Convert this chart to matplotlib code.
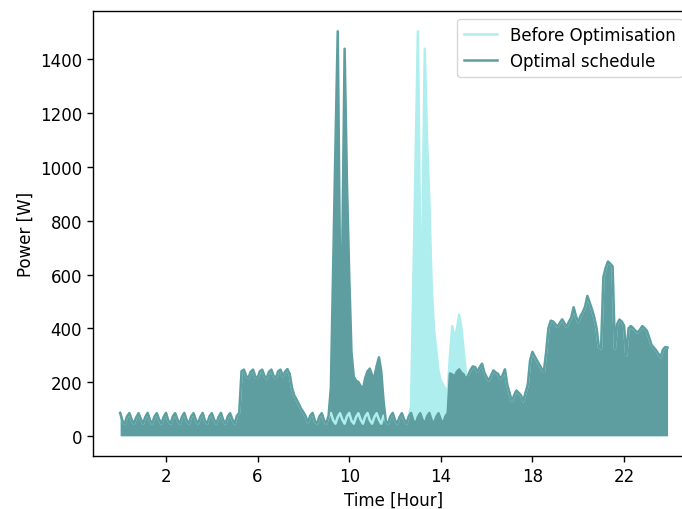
import numpy as np
import matplotlib
matplotlib.use("Agg")
import matplotlib.pyplot as plt

# power readings every 0.1 hour, 0.0 .. 23.9
hours = np.round(np.arange(0, 24, 0.1), 1)

before = [
    85, 55, 45, 72, 84, 60, 45, 68, 84, 62,
    45, 70, 85, 58, 45, 72, 84, 60, 45, 70,
    85, 56, 45, 72, 84, 60, 45, 70, 85, 58,
    45, 72, 84, 60, 45, 70, 85, 56, 45, 72,
    84, 60, 45, 70, 85, 58, 45, 72, 84, 60,
    45, 75, 85, 240, 246, 222, 215, 238, 246, 220,
    215, 240, 246, 222, 214, 238, 246, 222, 215, 240,
    246, 222, 238, 248, 230, 178, 150, 135, 118, 100,
    88, 72, 48, 75, 85, 55, 45, 72, 84, 58,
    45, 72, 85, 58, 45, 70, 84, 60, 45, 72,
    85, 56, 45, 70, 84, 60, 45, 72, 85, 58,
    45, 70, 84, 60, 45, 75, 55, 45, 72, 85,
    58, 45, 70, 84, 60, 45, 72, 110, 560, 1030,
    1505, 690, 760, 1440, 1100, 870, 560, 400, 320, 240,
    205, 190, 175, 165, 300, 408, 365, 395, 450, 400,
    315, 230, 225, 245, 258, 255, 238, 255, 268, 235,
    218, 205, 225, 243, 235, 230, 212, 225, 247, 190,
    160, 128, 150, 168, 160, 150, 128, 160, 190, 280,
    312, 295, 280, 265, 250, 238, 310, 400, 428, 425,
    415, 405, 420, 433, 418, 405, 425, 440, 478, 445,
    423, 445, 460, 480, 520, 495, 470, 440, 400, 330,
    325, 590, 625, 648, 640, 630, 325, 415, 432, 425,
    410, 300, 400, 408, 400, 390, 385, 395, 408, 400,
    390, 365, 338, 328, 318, 305, 292, 320, 330, 328,
]

optimal = [
    85, 55, 45, 72, 84, 60, 45, 68, 84, 62,
    45, 70, 85, 58, 45, 72, 84, 60, 45, 70,
    85, 56, 45, 72, 84, 60, 45, 70, 85, 58,
    45, 72, 84, 60, 45, 70, 85, 56, 45, 72,
    84, 60, 45, 70, 85, 58, 45, 72, 84, 60,
    45, 75, 85, 240, 246, 222, 215, 238, 246, 220,
    215, 240, 246, 222, 214, 238, 246, 222, 215, 240,
    246, 222, 238, 248, 230, 178, 150, 135, 118, 100,
    88, 72, 48, 75, 85, 55, 45, 72, 84, 58,
    45, 75, 180, 640, 1080, 1505, 620, 700, 1440, 950,
    600, 310, 220, 205, 200, 185, 175, 215, 240, 250,
    225, 220, 260, 292, 240, 130, 55, 45, 72, 85,
    58, 45, 70, 84, 60, 45, 72, 85, 56, 45,
    70, 84, 60, 45, 72, 85, 58, 45, 70, 84,
    60, 45, 72, 84, 232, 228, 220, 238, 247, 235,
    228, 210, 225, 245, 258, 255, 238, 255, 268, 235,
    218, 205, 225, 243, 235, 230, 212, 225, 247, 190,
    160, 128, 150, 168, 160, 150, 128, 160, 190, 280,
    312, 295, 280, 265, 250, 238, 310, 400, 428, 425,
    415, 405, 420, 433, 418, 405, 425, 440, 478, 445,
    423, 445, 460, 480, 520, 495, 470, 440, 400, 330,
    325, 590, 625, 648, 640, 630, 325, 415, 432, 425,
    410, 300, 400, 408, 400, 390, 385, 395, 408, 400,
    390, 365, 338, 328, 318, 305, 292, 320, 330, 328,
]

x_ticks = [2, 6, 10, 14, 18, 22]

fig = plt.figure(figsize=(6.82, 5.10), dpi=100)
# axes run past the right edge, as in the cropped original
ax = fig.add_axes([0.1361, 0.1039, 0.8828, 0.8725])

ax.fill_between(hours, before, color="paleturquoise", lw=0)
ax.fill_between(hours, optimal, color="cadetblue", lw=0)
ax.plot(hours, before, color="paleturquoise", lw=1.8, label="Before Optimisation")
ax.plot(hours, optimal, color="cadetblue", lw=1.8, label="Optimal schedule")

ax.set_xticks(x_ticks)
ax.set_xlabel("Time [Hour]", fontsize=12)
ax.set_ylabel("Power [W]", fontsize=12)
ax.tick_params(labelsize=12, length=4.2, width=1)
for s in ax.spines.values():
    s.set_linewidth(1)
ax.legend(loc="upper right", fontsize=12, borderaxespad=0,
          bbox_to_anchor=(0.9796, 0.982))

fig.savefig("out.png", dpi=100)
